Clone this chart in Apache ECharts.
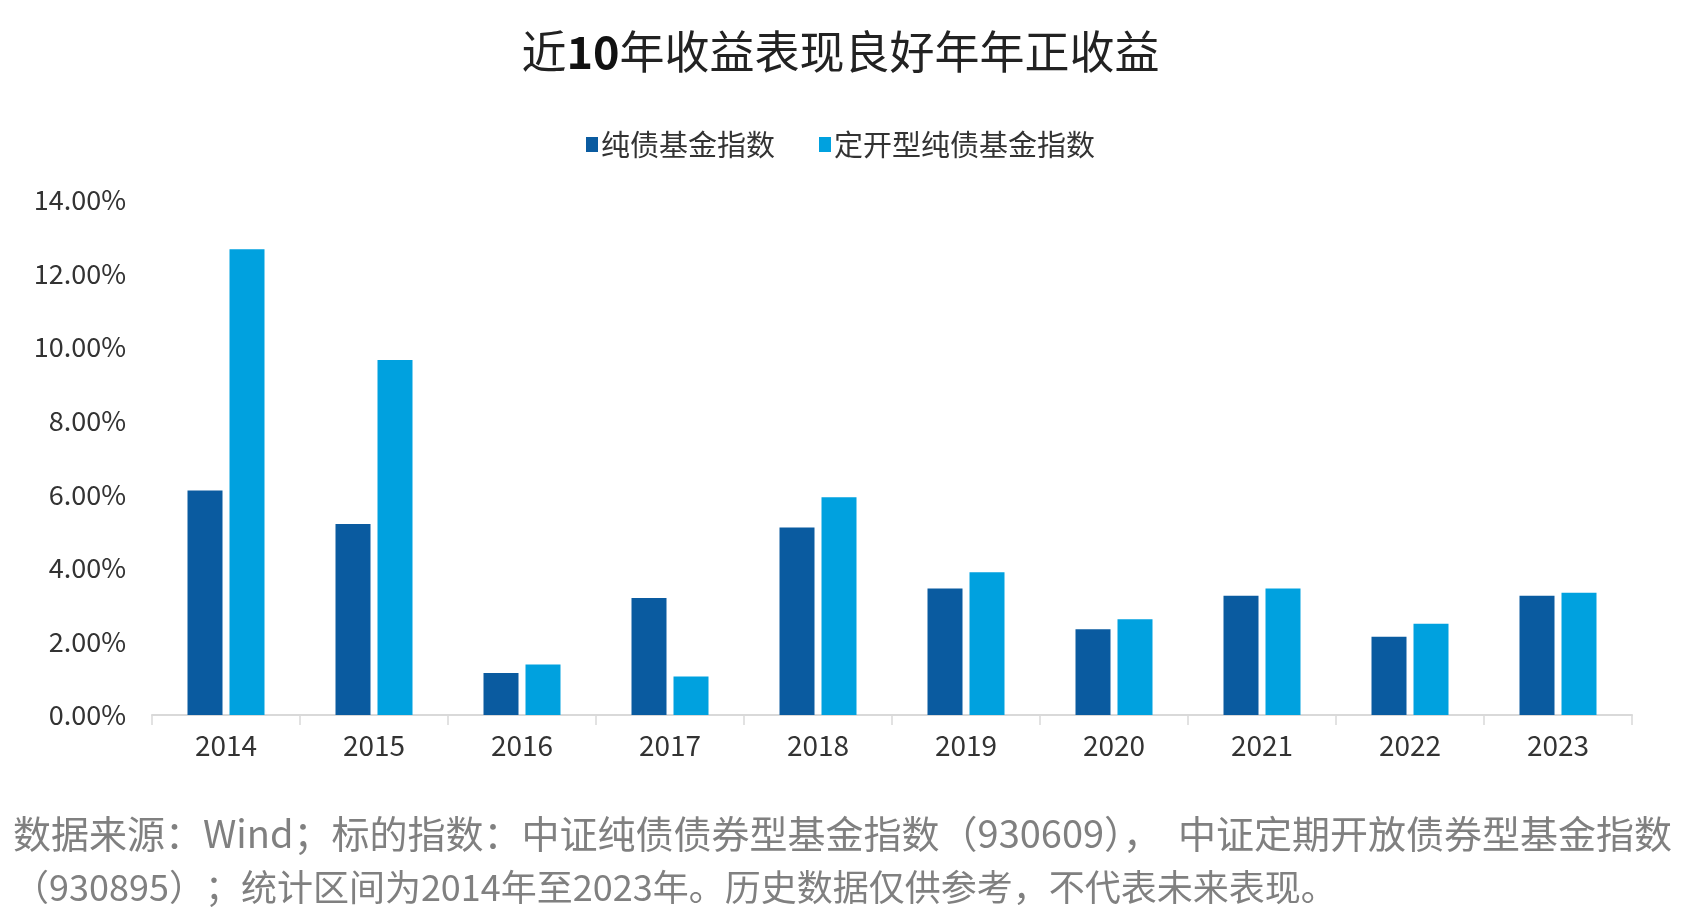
<!DOCTYPE html>
<html>
<head>
<meta charset="utf-8">
<script src="https://cdn.jsdelivr.net/npm/echarts@6/dist/echarts.min.js"></script>
<style>
html,body{margin:0;padding:0;background:#fff;}
#main{width:1681px;height:921px;}
</style>
</head>
<body>
<div id="main"></div>
<script>
const years = ['2014','2015','2016','2017','2018','2019','2020','2021','2022','2023'];
const pureBond = [6.10, 5.19, 1.14, 3.18, 5.10, 3.44, 2.33, 3.24, 2.13, 3.24];
const openPureBond = [12.66, 9.65, 1.37, 1.05, 5.92, 3.88, 2.60, 3.44, 2.48, 3.32];
const seriesNames = ['纯债基金指数', '定开型纯债基金指数'];
const footLine1 = '数据来源：Wind；标的指数：中证纯债债券型基金指数（930609），  中证定期开放债券型基金指数';
const footLine2 = '（930895）；统计区间为2014年至2023年。历史数据仅供参考，不代表未来表现。';

const font = '"Noto Sans CJK SC", "Noto Sans", sans-serif';
const chart = echarts.init(document.getElementById('main'));
chart.setOption({
  backgroundColor: '#ffffff',
  animation: false,
  title: {
    text: '{a|近}{b|10}{a|年收益表现良好年年正收益}',
    left: 'center',
    top: 24,
    textStyle: {
      rich: {
        a: { fontSize: 45, fontFamily: font, color: '#222', fontWeight: 'normal' },
        b: { fontSize: 45, fontFamily: font, color: '#111', fontWeight: 'bold' }
      }
    }
  },
  legend: {
    top: 125,
    left: 'center',
    itemWidth: 12,
    itemHeight: 15,
    itemGap: 44,
    icon: 'rect',
    textStyle: { fontSize: 29, fontFamily: font, color: '#333', padding: [0,0,0,-2] },
    data: seriesNames
  },
  grid: { left: 152, right: 49, top: 200, bottom: 206 },
  xAxis: {
    type: 'category',
    data: years,
    axisLine: { lineStyle: { color: '#d9d9d9', width: 2 } },
    axisTick: { show: true, length: 10, lineStyle: { color: '#d9d9d9', width: 1.5 } },
    axisLabel: { fontSize: 28, fontFamily: font, color: '#333', margin: 16 }
  },
  yAxis: {
    type: 'value',
    min: 0, max: 14, interval: 2,
    axisLine: { show: false },
    axisTick: { show: false },
    splitLine: { show: false },
    axisLabel: {
      fontSize: 27, fontFamily: font, color: '#333', margin: 26,
      formatter: v => v.toFixed(2) + '%'
    }
  },
  series: [
    { name: seriesNames[0], type: 'bar', data: pureBond, barWidth: 35, barGap: '20%',
      itemStyle: { color: '#0a5ba0' } },
    { name: seriesNames[1], type: 'bar', data: openPureBond, barWidth: 35,
      itemStyle: { color: '#00a1df' } }
  ],
  graphic: [
    { type: 'text', left: 13, top: 815,
      style: { text: footLine1, fontSize: 38, fontFamily: font, fill: '#808080' } },
    { type: 'text', left: 13, top: 869,
      style: { text: footLine2, fontSize: 36, fontFamily: font, fill: '#808080' } }
  ]
});
</script>
</body>
</html>
